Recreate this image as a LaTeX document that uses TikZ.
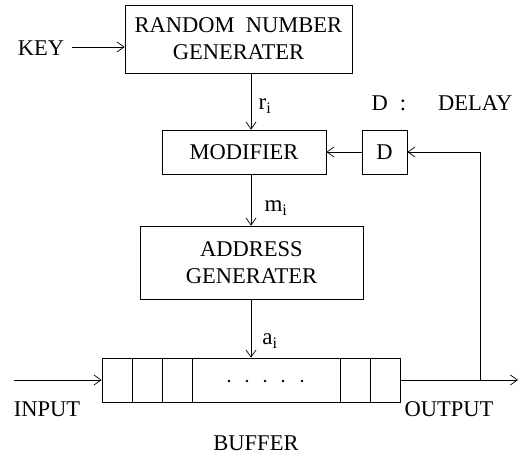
\documentclass[tikz,border=0pt]{standalone}
\usepackage{fontspec}
\setmainfont{Liberation Serif}
\usetikzlibrary{arrows.meta}
\begin{document}
\begin{tikzpicture}[x=1pt,y=-1pt,
  box/.style={draw,line width=0.8pt,inner sep=0pt,align=center,font=\fontsize{22.5}{27}\selectfont},
  lbl/.style={inner sep=0pt,font=\fontsize{22.5}{27}\selectfont},
  sub/.style={inner sep=0pt,font=\fontsize{23}{26}\selectfont},
  conn/.style={line width=0.8pt,-{Straight Barb[length=7pt,width=10pt,line width=0.7pt]}},
  ln/.style={line width=0.8pt}]
\useasboundingbox (0,0) rectangle (532,460);
% boxes
\node[box,minimum width=227pt,minimum height=68pt] (rng) at (238.5,39) {RANDOM\ \ NUMBER\\GENERATER};
\node[box,minimum width=164pt,minimum height=44pt] (mod) at (244,152) {MODIFIER};
\node[box,minimum width=45pt,minimum height=44pt] (d) at (384.5,152) {D};
\node[box,minimum width=223pt,minimum height=73pt] (addr) at (251.5,262.5) {ADDRESS\\GENERATER};
\node[draw,line width=0.8pt,minimum width=298pt,minimum height=44pt,inner sep=0pt] (buf) at (251,380) {};
% buffer dividers
\foreach \x in {132,162,192,340,370}
  \draw[ln] (\x,358) -- (\x,402);
\foreach \x in {229,247,265,283,302}
  \fill (\x,381) circle (1.3pt);
% labels
\node[lbl] (key) at (41,48) {KEY};
\node[lbl] (delay) at (442,103) {D\hspace{12pt}:\hspace{32pt}DELAY};
\node[sub] (ri) at (265,106) {r\textsubscript{i}};
\node[sub] (mi) at (276,208) {m\textsubscript{i}};
\node[sub] (ai) at (270,341) {a\textsubscript{i}};
\node[lbl] (input) at (47,409) {INPUT};
\node[lbl] (output) at (449,409) {OUTPUT};
\node[lbl] (buffer) at (256,443) {BUFFER};
% coordinates
\coordinate (kin) at (72,47);
\coordinate (x1) at (251,0);
\coordinate (inp) at (14,380);
\coordinate (outp) at (518,380);
\coordinate (fb) at (480,380);
% connectors
\draw[conn] (kin) -- (kin -| rng.west);
\draw[conn] (rng.south -| x1) -- (mod.north -| x1);
\draw[conn] (mod.south -| x1) -- (addr.north -| x1);
\draw[conn] (addr.south -| x1) -- (buf.north -| x1);
\draw[conn] (d.west) -- (mod.east);
\draw[conn] (inp) -- (buf.west);
\draw[conn] (buf.east) -- (outp);
\draw[conn] (fb) |- (d.east);
\end{tikzpicture}
\end{document}
